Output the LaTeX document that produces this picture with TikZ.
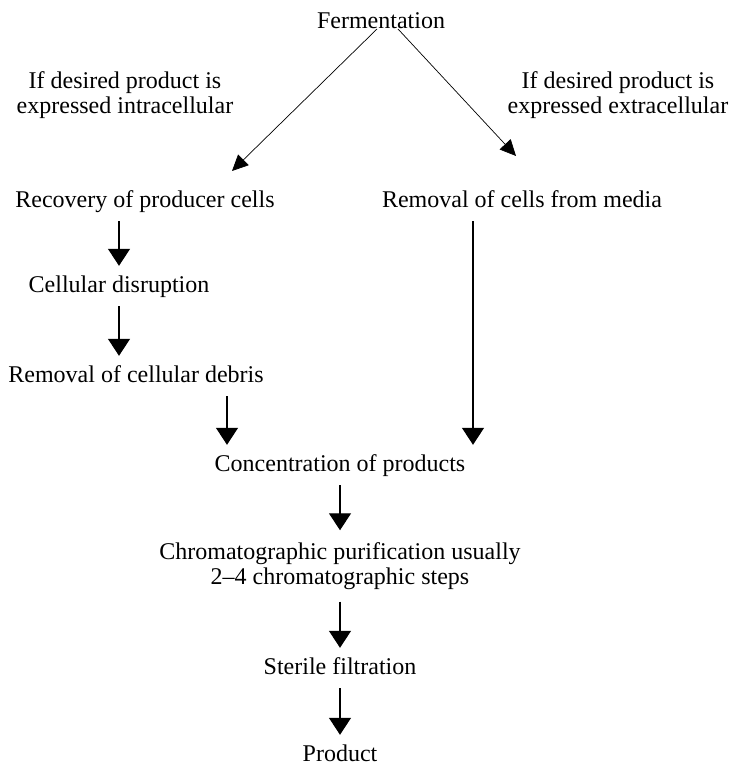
\documentclass[tikz,border=0pt]{standalone}
\usepackage{fontspec}
\setmainfont{Liberation Serif}
\usepackage{tikz}
\usetikzlibrary{arrows.meta,calc}
\tikzset{>=latex}

\begin{document}
\begin{tikzpicture}[x=1pt,y=-1pt,
    stage/.style={font=\fontsize{24}{26}\selectfont, inner xsep=2pt, inner ysep=9pt,
        text height=17pt, text depth=5pt, anchor=base},
    note/.style={font=\fontsize{24}{25}\selectfont, align=center, inner sep=0pt},
    down/.style={-{Triangle[width=22pt,length=17pt]}, line width=1.3pt},
    split/.style={-{Triangle[width=15pt,length=16pt]}, line width=0.7pt}]
    \def\colx{340}

    \useasboundingbox (0,0) rectangle (734,765);

    % Stages
    \node[stage] (ferm) at (381,29) {Fermentation};
    \node[stage] (rec) at (145,207) {Recovery of producer cells};
    \node[stage] (rem) at (522,207) {Removal of cells from media};
    \node[stage] (dis) at (119,292) {Cellular disruption};
    \node[stage] (deb) at (136,382) {Removal of cellular debris};
    \node[stage] (conc) at (\colx,471) {Concentration of products};
    \node[note, inner ysep=12pt] (chrom) at (\colx,566) {Chromatographic purification usually\\2--4 chromatographic steps};
    \node[stage] (ster) at (\colx,674) {Sterile filtration};
    \node[stage] (prod) at (\colx,761) {Product};

    % Labels
    \node[note] (lblIn) at (125,95) {If desired product is\\expressed intracellular};
    \node[note] (lblEx) at (618,95) {If desired product is\\expressed extracellular};

    \coordinate (inTip) at (232,171);
    \coordinate (exTip) at (516,156);
    \coordinate (jl) at (227,0);
    \coordinate (jr) at (473,0);

    \draw[split] ([xshift=-4pt]ferm.base) -- (inTip);
    \draw[split] ([xshift=17pt]ferm.base) -- (exTip);

    \draw[down] (rec.south -| dis) -- (dis.north);
    \draw[down] (dis.south) -- (deb.north -| dis);
    \draw[down] (deb.south -| jl) -- (conc.north -| jl);
    \draw[down] (rem.south -| jr) -- (conc.north -| jr);

    \draw[down] (conc.south) -- (chrom.north);
    \draw[down] (chrom.south) -- (ster.north);
    \draw[down] (ster.south) -- (prod.north);
\end{tikzpicture}
\end{document}
